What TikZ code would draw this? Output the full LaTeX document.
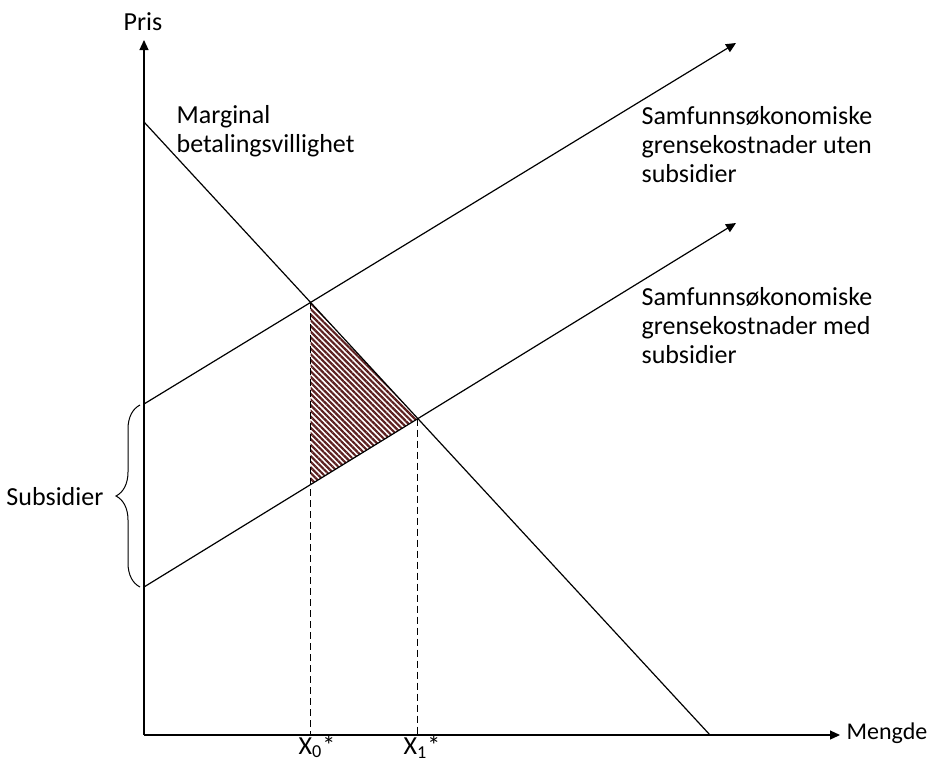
\documentclass[tikz,border=0pt]{standalone}
\usepackage{fontspec}
\setmainfont{Carlito}
\usetikzlibrary{arrows.meta,patterns.meta,decorations.pathreplacing,intersections}
\definecolor{hatchred}{RGB}{92,32,32}

\begin{document}
\begin{tikzpicture}[x=.5pt,y=-.5pt,line width=.6pt,
  axis/.style={-{Triangle[length=5pt,width=4.5pt]}},
  guide/.style={dash pattern=on 3.5pt off 2pt,line width=.5pt},
  lbl/.style={inner sep=0pt,font=\fontsize{13}{14.5}\selectfont,align=left}]
\path[use as bounding box] (0,0) rectangle (931,762);
% axes
\coordinate (O) at (144,735);
\coordinate (ytop) at (144,40);
\coordinate (xend) at (840,735);
% curve end points
\coordinate (D0) at (144,122);
\coordinate (D1) at (710,735);
\coordinate (S0) at (144,404);
\coordinate (S1) at (736,43);
\coordinate (T0) at (144,587);
\coordinate (T1) at (736,223);
\path[name path=dem] (D0) -- (D1);
\path[name path=sup] (S0) -- (S1);
\path[name path=sub] (T0) -- (T1);
\path[name intersections={of=dem and sup,by=E0}];
\path[name intersections={of=dem and sub,by=E1}];
\path[name path=vert] (E0) -- (E0|-O);
\path[name intersections={of=vert and sub,by=B0}];
% hatched area
\fill[pattern={Lines[angle=-45,distance=2pt,line width=1.1pt]},pattern color=hatchred] (E0) -- (E1) -- (B0) -- cycle;
% lines
\draw[axis] (O) -- (ytop);
\draw[axis] (O) -- (xend);
\draw (D0) -- (D1);
\draw[axis] (S0) -- (S1);
\draw[axis] (T0) -- (T1);
\draw[guide] (E0) -- (E0|-O);
\draw[guide] (E1) -- (E1|-O);
% brace
\draw[line width=.5pt,decorate,decoration={brace,amplitude=12pt}] (140,587) -- (140,405);
% labels
\node[lbl] (pris) at (143,22) {Pris};
\node[lbl,anchor=west,font=\fontsize{12}{14.5}\selectfont] (mengde) at (846,733) {Mengde};
\node[lbl,anchor=west] (mbv) at (176,131) {Marginal\\betalingsvillighet};
\node[lbl,anchor=west] (uten) at (641,145) {Samfunnsøkonomiske\\grensekostnader uten\\subsidier};
\node[lbl,anchor=west] (med) at (641,326) {Samfunnsøkonomiske\\grensekostnader med\\subsidier};
\node[lbl,anchor=east] (subs) at (104,497) {Subsidier};
\node[lbl] (x0) at (317,747) {X\textsubscript{0}*};
\node[lbl] (x1) at (422,747) {X\textsubscript{1}*};
\end{tikzpicture}
\end{document}
